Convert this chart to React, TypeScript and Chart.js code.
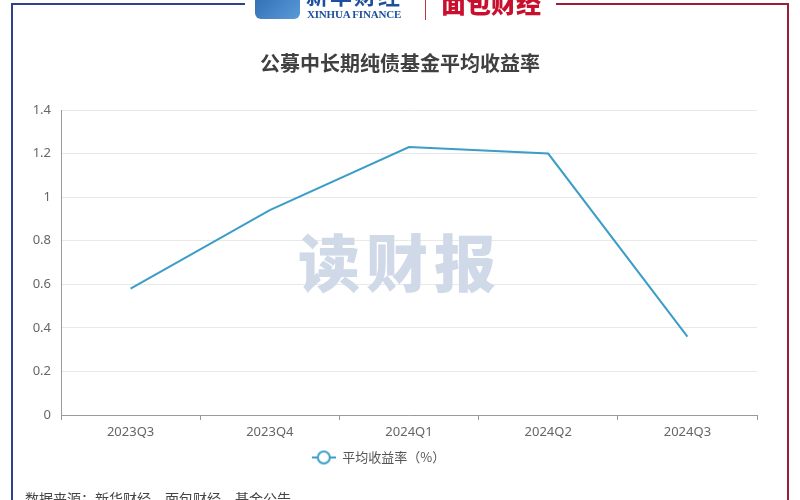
import React, { useEffect, useRef } from "react";
import { Chart, registerables } from "chart.js";

Chart.register(...registerables);

const categories = ["2023Q3", "2023Q4", "2024Q1", "2024Q2", "2024Q3"];
const avgYield = [0.58, 0.94, 1.23, 1.2, 0.36];
const seriesLabel = "平均收益率（%）";
const titleText = "公募中长期纯债基金平均收益率";
const sourceText = "数据来源：新华财经、面包财经、基金公告";
const watermarkText = "读财报";
const yMin = 0;
const yMax = 1.4;
const yStep = 0.2;

const LINE_COLOR = "#3b9dc8";
const CJK = "'Noto Sans CJK SC', 'Noto Sans', sans-serif";

function makeLegendIcon(): HTMLCanvasElement {
  const c = document.createElement("canvas");
  c.width = 24;
  c.height = 16;
  const ctx = c.getContext("2d")!;
  ctx.strokeStyle = LINE_COLOR;
  ctx.lineWidth = 2;
  ctx.beginPath();
  ctx.moveTo(0, 8);
  ctx.lineTo(24, 8);
  ctx.stroke();
  ctx.beginPath();
  ctx.arc(12, 8, 6, 0, Math.PI * 2);
  ctx.fillStyle = "#ffffff";
  ctx.fill();
  ctx.stroke();
  return c;
}

export default function App() {
  const ref = useRef<HTMLCanvasElement | null>(null);

  useEffect(() => {
    document.body.style.margin = "0";
    if (!ref.current) return;
    const icon = makeLegendIcon();
    const chart = new Chart(ref.current, {
      type: "line",
      data: {
        labels: categories,
        datasets: [
          {
            label: seriesLabel,
            data: avgYield,
            borderColor: LINE_COLOR,
            backgroundColor: "#ffffff",
            borderWidth: 2,
            tension: 0,
            pointRadius: 0,
            pointHoverRadius: 0,
            fill: false,
          },
        ],
      },
      options: {
        responsive: false,
        animation: false,
        devicePixelRatio: 1,
        layout: { padding: { left: 0, right: 43, top: 110, bottom: 26 } },
        plugins: {
          title: { display: false },
          tooltip: { enabled: false },
          legend: {
            display: true,
            position: "bottom",
            labels: {
              usePointStyle: true,
              pointStyle: icon as any,
              pointStyleWidth: 24,
              padding: 8,
              color: "#555",
              font: { size: 13, family: CJK },
            },
          },
        },
        scales: {
          x: {
            type: "category",
            offset: true,
            afterFit: (s: any) => {
              s.height = 28;
            },
            grid: {
              display: true,
              drawOnChartArea: false,
              offset: true,
              tickLength: 5,
              color: "#9a9a9a",
            },
            border: { display: true, color: "#9a9a9a", width: 1 },
            ticks: {
              color: "#666",
              padding: 4,
              font: { size: 13, family: "'Noto Sans', sans-serif" },
            },
          },
          y: {
            min: yMin,
            max: yMax,
            afterFit: (s: any) => {
              s.width = 61;
            },
            grid: { color: "#e8e8e8", drawTicks: false },
            border: { display: true, color: "#9a9a9a", width: 1 },
            ticks: {
              stepSize: yStep,
              color: "#666",
              padding: 10,
              font: { size: 13, family: "'Noto Sans', sans-serif" },
              callback: (v: any) => String(Math.round(Number(v) * 10) / 10),
            },
          },
        },
      },
    });
    return () => chart.destroy();
  }, []);

  const abs = (s: React.CSSProperties): React.CSSProperties => ({ position: "absolute", ...s });

  return (
    <div style={{ position: "relative", width: 800, height: 500, overflow: "hidden", background: "#fff" }}>
      <canvas ref={ref} width={800} height={500} style={abs({ left: 0, top: 0 })} />
      {/* frame */}
      <div style={abs({ left: 11, top: 3, width: 234, height: 2, background: "#2e4486" })} />
      <div style={abs({ left: 11, top: 3, width: 2, height: 497, background: "#2e4486" })} />
      <div style={abs({ left: 556, top: 3, width: 233, height: 2, background: "#9a1f35" })} />
      <div style={abs({ left: 787, top: 3, width: 2, height: 497, background: "#9a1f35" })} />
      {/* header logos */}
      <div
        style={abs({
          left: 255,
          top: -8,
          width: 45,
          height: 27,
          borderRadius: 6,
          background: "linear-gradient(135deg, #2f6cb3, #5b9bd8)",
        })}
      />
      <div style={abs({ left: 306, top: -17, fontFamily: CJK, fontWeight: 700, fontSize: 22, lineHeight: "22px", color: "#1d4f9c", letterSpacing: 2 })}>
        新华财经
      </div>
      <div style={abs({ left: 307, top: 9, fontFamily: "'Liberation Serif', serif", fontWeight: 700, fontSize: 11, lineHeight: "11px", color: "#1d4f9c", letterSpacing: -0.2 })}>
        XINHUA FINANCE
      </div>
      <div style={abs({ left: 425, top: 0, width: 1, height: 20, background: "#c8303a" })} />
      <div style={abs({ left: 441, top: -10, fontFamily: CJK, fontWeight: 900, fontSize: 25, lineHeight: "25px", color: "#c8102e" })}>
        面包财经
      </div>
      {/* title */}
      <div style={abs({ left: 0, width: 800, top: 50, textAlign: "center", fontFamily: CJK, fontWeight: 700, fontSize: 20, lineHeight: "26px", color: "#404040" })}>
        {titleText}
      </div>
      {/* watermark */}
      <div style={abs({ left: 0, width: 800, top: 224, textAlign: "center", fontFamily: CJK, fontWeight: 900, fontSize: 62, lineHeight: "72px", color: "#d0d9e8", letterSpacing: 6, pointerEvents: "none" })}>
        {watermarkText}
      </div>
      {/* source */}
      <div style={abs({ left: 25, top: 490, fontFamily: CJK, fontSize: 14, lineHeight: "16px", color: "#444" })}>
        {sourceText}
      </div>
    </div>
  );
}
